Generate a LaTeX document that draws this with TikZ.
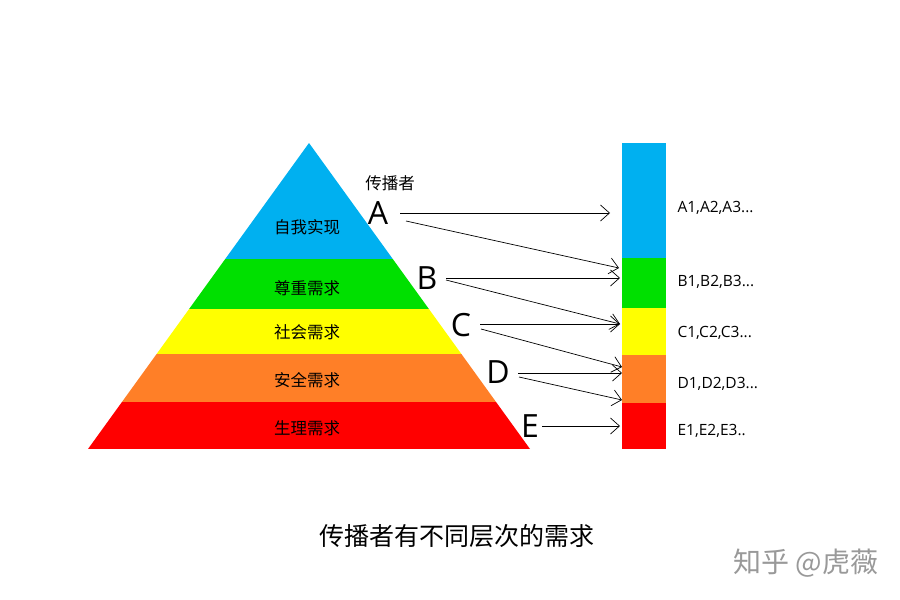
\documentclass[tikz,border=0pt]{standalone}
\usepackage{fontspec}
\usetikzlibrary{arrows.meta}
\setmainfont{Open Sans}
\newfontfamily\cjk{Noto Sans CJK SC}
\definecolor{lb}{RGB}{0,176,240}
\definecolor{lg}{RGB}{0,224,0}
\definecolor{ly}{RGB}{255,255,0}
\definecolor{lo}{RGB}{255,127,39}
\definecolor{lr}{RGB}{255,0,0}
\begin{document}
\begin{tikzpicture}[x=1pt,y=-1pt,
  arr/.style={-{Straight Barb[length=9pt,width=16pt]},line width=0.7pt},
  let/.style={font=\fontsize{32}{32}\selectfont},
  lab/.style={font=\cjk\fontsize{16.5}{16.5}\selectfont},
  rl/.style={font=\fontsize{15.5}{15.5}\selectfont,anchor=west}]
\useasboundingbox (0,0) rectangle (900,600);
\begin{scope}
\clip (309,143) -- (530,449) -- (88,449) -- cycle;
\fill[lb] (80,140) rectangle (540,259);
\fill[lg] (80,259) rectangle (540,309);
\fill[ly] (80,309) rectangle (540,354);
\fill[lo] (80,354) rectangle (540,402);
\fill[lr] (80,402) rectangle (540,449);
\end{scope}
\node[lab] (l1) at (307,227) {自我实现};
\node[lab] (l2) at (307,288) {尊重需求};
\node[lab] (l3) at (307,332) {社会需求};
\node[lab] (l4) at (307,380) {安全需求};
\node[lab] (l5) at (307,428) {生理需求};
\node[lab] (cb) at (390,183) {传播者};
\fill[lb] (622,143) rectangle (666,258);
\fill[lg] (622,258) rectangle (666,308);
\fill[ly] (622,308) rectangle (666,355);
\fill[lo] (622,355) rectangle (666,403);
\fill[lr] (622,403) rectangle (666,449);
\node[rl] (r1) at (674,208) {A1,A2,A3...};
\node[rl] (r2) at (674,282) {B1,B2,B3...};
\node[rl] (r3) at (674,333) {C1,C2,C3...};
\node[rl] (r4) at (674,384) {D1,D2,D3...};
\node[rl] (r5) at (674,431) {E1,E2,E3..};
\node[let] (A) at (378,213) {A};
\node[let] (B) at (427,278) {B};
\node[let] (C) at (461,325) {C};
\node[let] (D) at (498,372) {D};
\node[let] (E) at (530,426) {E};
\coordinate (a1) at (610,213); \coordinate (a2) at (619,268);
\coordinate (b1) at (620,278); \coordinate (b2) at (620,324);
\coordinate (c1) at (620,324); \coordinate (c2) at (622,367);
\coordinate (d1) at (622,373); \coordinate (d2) at (622,400);
\coordinate (e1) at (620,426);
\draw[arr] (400,213) -- (a1);
\draw[arr] (406,221) -- (a2);
\draw[arr] (446,278) -- (b1);
\draw[arr] (446,280) -- (b2);
\draw[arr] (480,324) -- (c1);
\draw[arr] (481,329) -- (c2);
\draw[arr] (518,373) -- (d1);
\draw[arr] (519,377) -- (d2);
\draw[arr] (542,426) -- (e1);
\node[font=\cjk\fontsize{25}{25}\selectfont] (cap) at (457,536) {传播者有不同层次的需求};
\node[font=\cjk\fontsize{28}{28}\selectfont,text=black!40] (wm) at (806,563) {知乎 @虎薇};
\end{tikzpicture}
\end{document}
